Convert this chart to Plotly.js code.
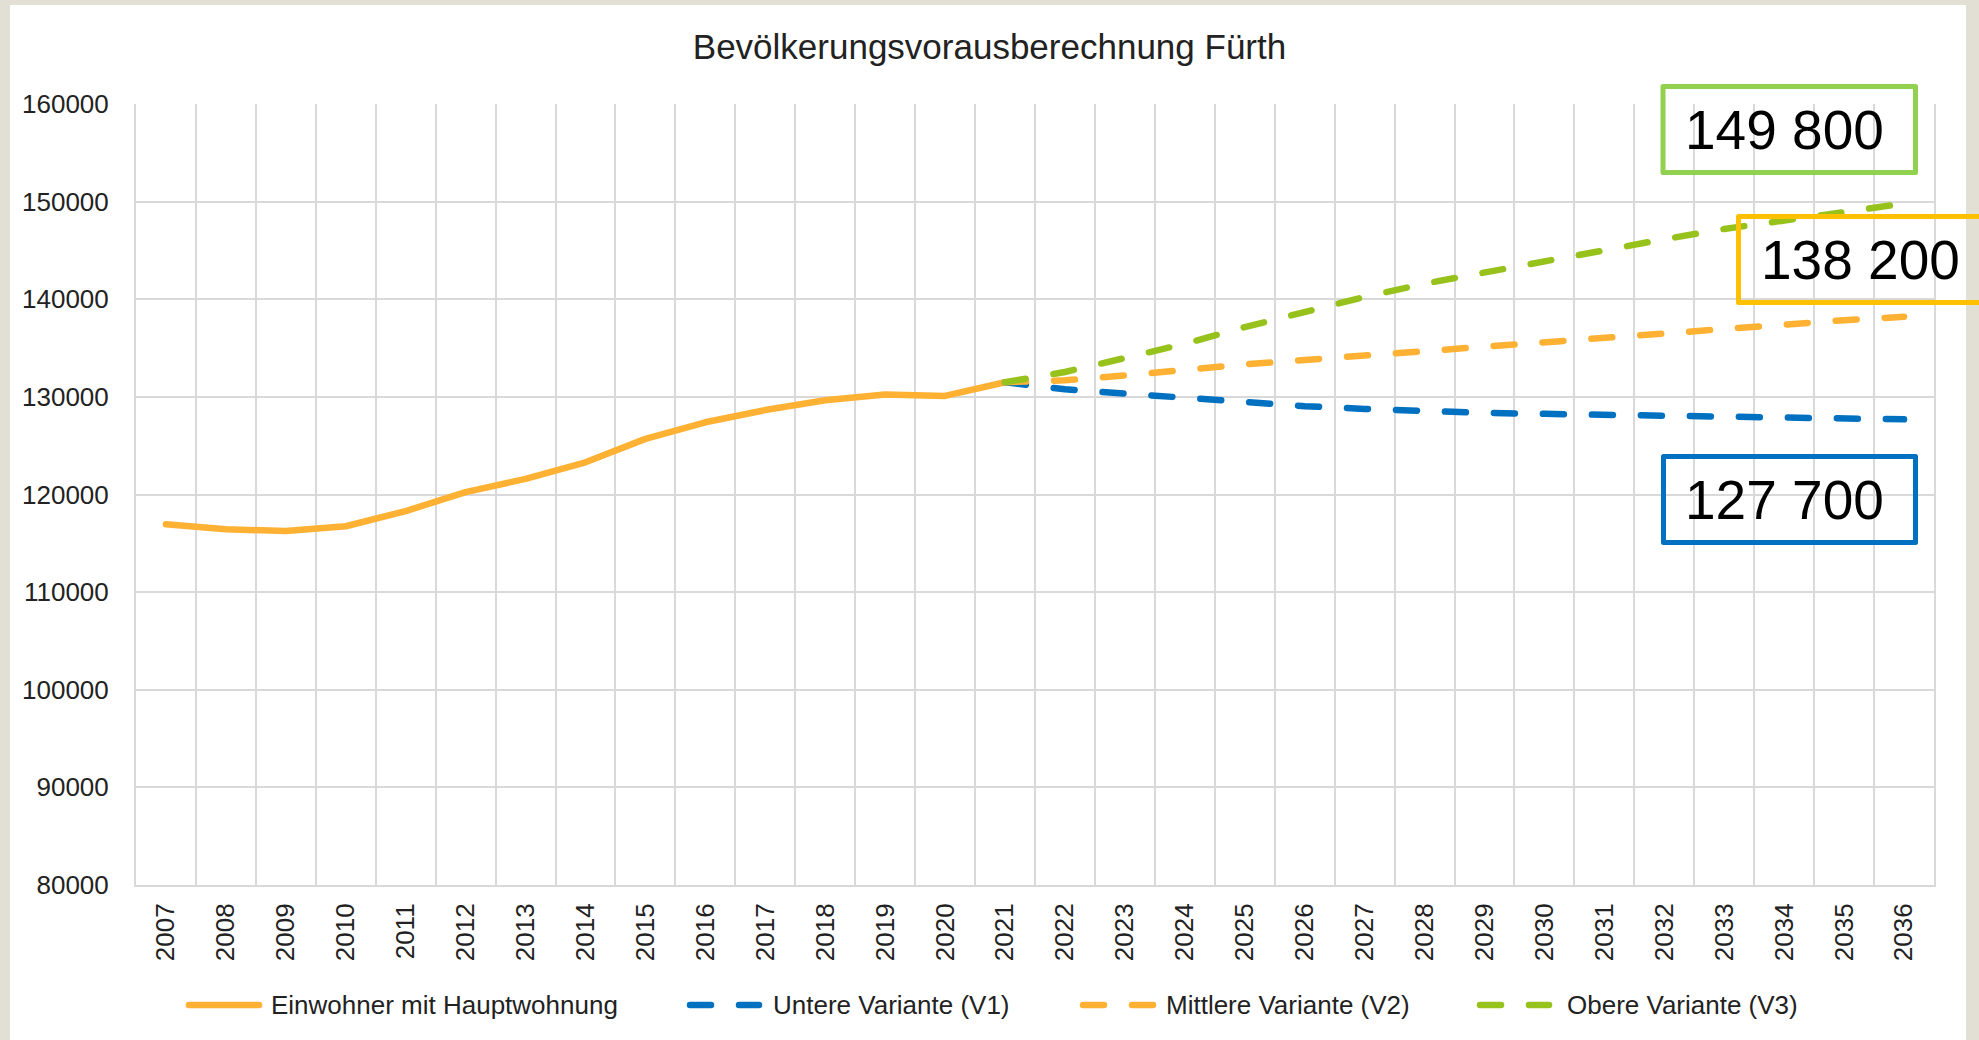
<!DOCTYPE html>
<html>
<head>
<meta charset="utf-8">
<script src="https://cdn.plot.ly/plotly-3.0.1.min.js"></script>
<style>
html, body { margin: 0; padding: 0; background: #E2DFD5; }
#chart { width: 1979px; height: 1040px; }
#chart .scatterlayer .js-line { stroke-linecap: round; stroke-linejoin: round; }
#chart .shapelayer path { stroke-linecap: round; stroke-linejoin: round; }
</style>
</head>
<body>
<div id="chart"></div>
<script>
// ---------- data ----------
const years = ['2007','2008','2009','2010','2011','2012','2013','2014','2015','2016','2017','2018','2019','2020','2021',
               '2022','2023','2024','2025','2026','2027','2028','2029','2030','2031','2032','2033','2034','2035','2036'];
const histYears = ['2007','2008','2009','2010','2011','2012','2013','2014','2015','2016','2017','2018','2019','2020','2021'];
const histValues = [116950,116450,116250,116750,118300,120250,121600,123300,125700,127400,128650,129650,130250,130100,131500];
const projYears = ['2021','2022','2023','2024','2025','2026','2027','2028','2029','2030','2031','2032','2033','2034','2035','2036'];
const v1Values = [131500,130780,130340,129900,129490,129050,128770,128530,128360,128260,128160,128050,127950,127820,127750,127700];
const v2Values = [131500,131700,132200,132820,133330,133780,134230,134710,135190,135730,136140,136480,136960,137440,137850,138200];
const v3Values = [131500,132550,133980,135440,137140,138750,140240,141600,142750,143950,145050,146150,147200,148100,149000,149800];
const seriesNames = ['Einwohner mit Hauptwohnung','Untere Variante (V1)','Mittlere Variante (V2)','Obere Variante (V3)'];
const endLabels = ['149 800','138 200','127 700'];
const titleText = 'Bevölkerungsvorausberechnung Fürth';

// ---------- styles ----------
const FONT = 'Liberation Sans, Arial, sans-serif';
const TXT = '#222222';
const C_ORANGE = '#FFB133';
const C_BLUE = '#0070C0';
const C_GREEN = '#97C21C';
const DASH = '21px,28px';
const LW = 6.5;

// plot area in pixels
const L = 136, R = 1934, T = 104, B = 885;
const W = R - L, H = B - T;
const px = p => (p - L) / W;
const py = p => (B - p) / H;

const traces = [
  { x: histYears, y: histValues, name: seriesNames[0], type: 'scatter', mode: 'lines',
    line: { color: C_ORANGE, width: LW }, showlegend: false },
  { x: projYears, y: v1Values, name: seriesNames[1], type: 'scatter', mode: 'lines',
    line: { color: C_BLUE, width: LW, dash: DASH }, showlegend: false },
  { x: projYears, y: v2Values, name: seriesNames[2], type: 'scatter', mode: 'lines',
    line: { color: C_ORANGE, width: LW, dash: DASH }, showlegend: false },
  { x: projYears, y: v3Values, name: seriesNames[3], type: 'scatter', mode: 'lines',
    line: { color: C_GREEN, width: LW, dash: DASH }, showlegend: false }
];

// ---------- shapes ----------
const shapes = [];
// white chart panel
shapes.push({ type: 'rect', xref: 'paper', yref: 'paper', layer: 'below',
  x0: px(10), x1: px(1966), y0: py(1045), y1: py(5),
  fillcolor: '#FFFFFF', line: { width: 0 } });

// manual legend
const legY = 1005;
const legSwatch = [[189, 259], [690, 759], [1083, 1153], [1480, 1549]];
const legText = [269, 771, 1164, 1565];
const legColors = [C_ORANGE, C_BLUE, C_ORANGE, C_GREEN];
const legDash = ['solid', '21px,28px', '21px,28px', '21px,28px'];
const annotations = [];
for (let i = 0; i < 4; i++) {
  shapes.push({ type: 'line', xref: 'paper', yref: 'paper',
    x0: px(legSwatch[i][0]), x1: px(legSwatch[i][1]), y0: py(legY), y1: py(legY),
    line: { color: legColors[i], width: LW, dash: legDash[i] } });
  annotations.push({ xref: 'paper', yref: 'paper', x: px(legText[i]), y: py(legY),
    xanchor: 'left', yanchor: 'middle', showarrow: false, text: seriesNames[i],
    font: { family: FONT, size: 26, color: TXT } });
}

// value boxes
const boxes = [
  { x0: 1663, x1: 1915.5, y0: 86.5, y1: 172.5, color: '#92D050', tx: 1784, ty: 130 },
  { x0: 1738.5, x1: 1995, y0: 216.5, y1: 302.5, color: '#FFC000', tx: 1860, ty: 260 },
  { x0: 1663.5, x1: 1915.5, y0: 456.5, y1: 542.5, color: '#0070C0', tx: 1784, ty: 500 }
];
boxes.forEach((b, i) => {
  shapes.push({ type: 'rect', xref: 'paper', yref: 'paper', layer: 'above',
    x0: px(b.x0), x1: px(b.x1), y0: py(b.y1), y1: py(b.y0),
    line: { color: b.color, width: 5 }, fillcolor: 'rgba(0,0,0,0)' });
  annotations.push({ xref: 'paper', yref: 'paper', x: px(b.tx), y: py(b.ty),
    xanchor: 'center', yanchor: 'middle', showarrow: false, text: endLabels[i],
    font: { family: FONT, size: 55, color: '#000000' } });
});

const layout = {
  width: 1979, height: 1040,
  margin: { l: L, r: 1979 - R, t: T, b: 1040 - B, pad: 0 },
  paper_bgcolor: '#E2DFD5',
  plot_bgcolor: '#FFFFFF',
  font: { family: FONT, color: TXT },
  title: { text: titleText, font: { family: FONT, size: 35, color: TXT },
    x: 0.5, xref: 'container', xanchor: 'center', y: 1 - 47 / 1040, yref: 'container', yanchor: 'middle' },
  xaxis: {
    type: 'category', categoryorder: 'array', categoryarray: years,
    range: [-0.5, years.length - 0.5],
    tickson: 'boundaries', ticks: '', showgrid: true, gridcolor: '#D9D9D9', gridwidth: 2,
    showline: true, linecolor: '#D9D9D9', linewidth: 2, mirror: false,
    tickangle: -90, tickfont: { family: FONT, size: 26, color: TXT },
    ticklabelstandoff: 6, fixedrange: true, zeroline: false
  },
  yaxis: {
    range: [80000, 160000], tick0: 80000, dtick: 10000, tickformat: 'd',
    ticks: '', showgrid: true, gridcolor: '#D9D9D9', gridwidth: 2,
    showline: true, linecolor: '#D9D9D9', linewidth: 2, mirror: true,
    tickfont: { family: FONT, size: 26, color: TXT },
    ticklabelstandoff: 20, fixedrange: true, zeroline: false
  },
  showlegend: false,
  shapes: shapes,
  annotations: annotations
};

Plotly.newPlot('chart', traces, layout, { displayModeBar: false, staticPlot: true });
</script>
</body>
</html>
